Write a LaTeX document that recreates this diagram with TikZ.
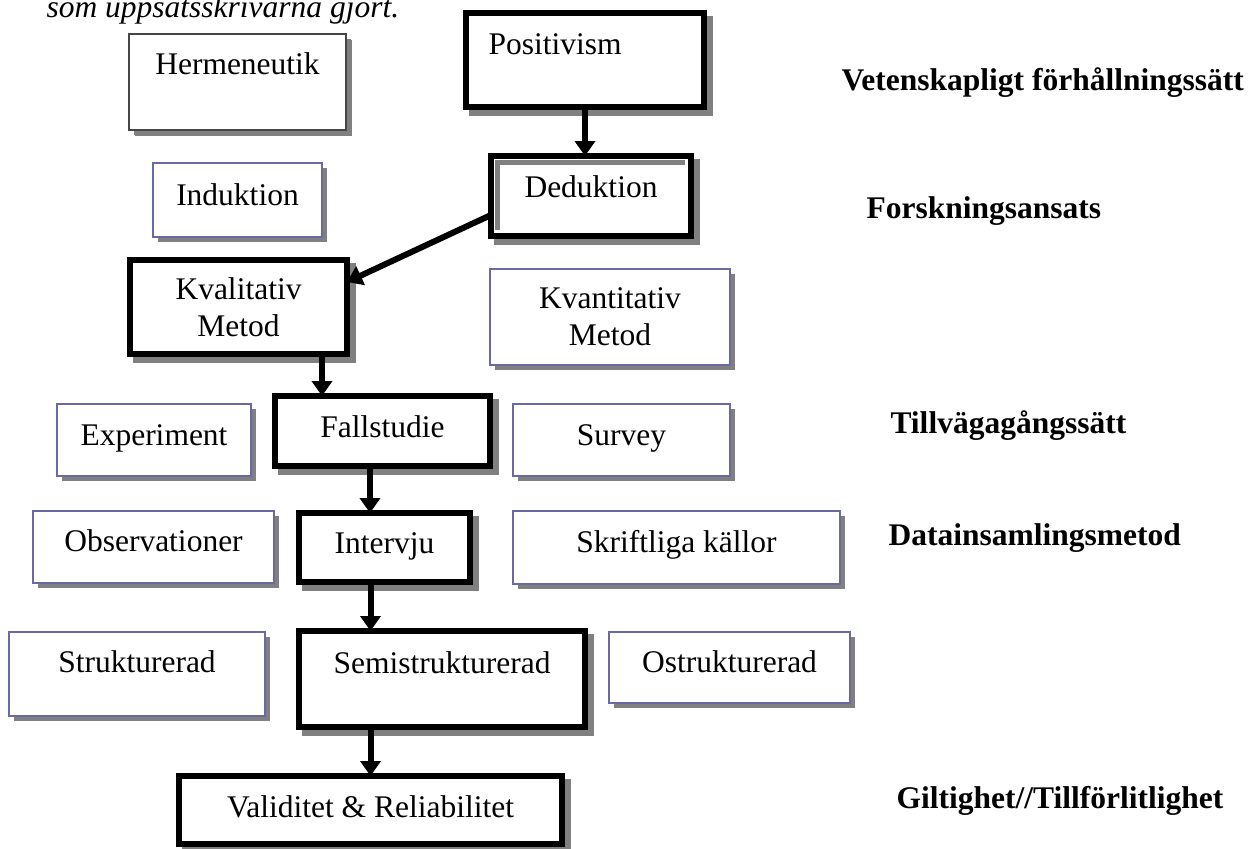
\documentclass[tikz,border=0pt]{standalone}
\usepackage{fontspec}
\setmainfont{Liberation Serif}
\usetikzlibrary{arrows.meta,shadows}
\definecolor{framecol}{RGB}{105,105,165}
\definecolor{hermcol}{RGB}{70,70,70}
\definecolor{shadecol}{RGB}{128,128,128}
\newcommand\boxfont{\fontsize{31.5}{37}\selectfont}
\tikzset{
    basebox/.style={rectangle, anchor=north west, inner sep=0pt, outer sep=0pt,
        fill=white, font=\boxfont},
    thinbox/.style={basebox, draw=framecol, line width=2pt,
        drop shadow={shadow xshift=5pt, shadow yshift=-5pt, fill=shadecol, opacity=1}},
    thickbox/.style={basebox, draw=black, line width=6.5pt,
        drop shadow={shadow xshift=6pt, shadow yshift=-6pt, fill=shadecol,
            draw=shadecol, line width=6.5pt, opacity=1}},
    levelname/.style={anchor=base west, font=\boxfont\bfseries},
    arr/.style={line width=6pt, -{Triangle[length=15pt, width=20pt]}}
}
\begin{document}
\begin{tikzpicture}[x=1pt, y=-1pt]
    \useasboundingbox (0,0) rectangle (1257,848);
    \node[anchor=base west, font=\boxfont\itshape] (note) at (43,18) {som uppsatsskrivarna gjort.};
    % boxes
    \node[thinbox, draw=hermcol, drop shadow={shadow xshift=6pt, shadow yshift=-6pt, fill=shadecol, opacity=1},
        minimum width=217, text height=41, text depth=55] (herm) at (129,34) {Hermeneutik};
    \node[thickbox, text width=193, inner xsep=22.5, align=left,
        text height=42, text depth=52] (pos) at (466,13) {Positivism};
    \node[thinbox, minimum width=169, text height=42, text depth=32] (ind) at (153,163) {Induktion};
    \node[thickbox, minimum width=200, text height=41, text depth=39] (ded) at (491,156) {Deduktion};
    \draw[shadecol, line width=5pt] ([shift={(6pt,6pt)}]ded.south west) -- ([shift={(6pt,-6pt)}]ded.north west)
        -- ([shift={(-6pt,-6pt)}]ded.north east);
    \node[thickbox, align=center, minimum width=217, minimum height=94] (kval) at (130,260) {Kvalitativ\\Metod};
    \node[thinbox, align=center, minimum width=240, minimum height=96] (kvant) at (490,269) {Kvantitativ\\Metod};
    \node[thinbox, minimum width=194, text height=41, text depth=31] (exp) at (57,404) {Experiment};
    \node[thickbox, minimum width=215, text height=41, text depth=29] (fall) at (275,396) {Fallstudie};
    \node[thinbox, minimum width=217, text height=41, text depth=31] (surv) at (513,404) {Survey};
    \node[thinbox, minimum width=241, text height=40, text depth=32] (obs) at (33,511) {Observationer};
    \node[thickbox, minimum width=171, text height=40, text depth=29] (intv) at (299,513) {Intervju};
    \node[thinbox, minimum width=327, text height=41, text depth=32] (skr) at (513,511) {Skriftliga källor};
    \node[thinbox, minimum width=256, text height=40, text depth=44] (strk) at (9,632) {Strukturerad};
    \node[thickbox, minimum width=286, text height=42, text depth=54] (semi) at (299,631) {Semistrukturerad};
    \node[thinbox, minimum width=241, text height=40, text depth=31] (ostr) at (609,632) {Ostrukturerad};
    \node[thickbox, minimum width=383, text height=41, text depth=27] (val) at (179,776) {Validitet \& Reliabilitet};
    % levels
    \node[levelname] (lvet) at (838,91) {Vetenskapligt förhållningssätt};
    \node[levelname] (lfor) at (863,218) {Forskningsansats};
    \node[levelname] (ltil) at (887,433) {Tillvägagångssätt};
    \node[levelname] (ldat) at (885,545) {Datainsamlingsmetod};
    \node[levelname] (lgil) at (893,808) {Giltighet//Tillförlitlighet};
    % arrows
    \draw[arr] (pos.south) -- (pos.south |- ded.north);
    \draw[arr] ([yshift=-19pt]ded.west) -- ([yshift=25pt]kval.east);
    \draw[arr] ([xshift=83.5pt]kval.south) -- ([xshift=83.5pt]kval.south |- fall.north);
    \draw[arr] ([xshift=-12.5pt]fall.south) -- ([xshift=-12.5pt]fall.south |- intv.north);
    \draw[arr] (val.north |- intv.south) -- (val.north |- semi.north);
    \draw[arr] (val.north |- semi.south) -- (val.north);
\end{tikzpicture}
\end{document}
